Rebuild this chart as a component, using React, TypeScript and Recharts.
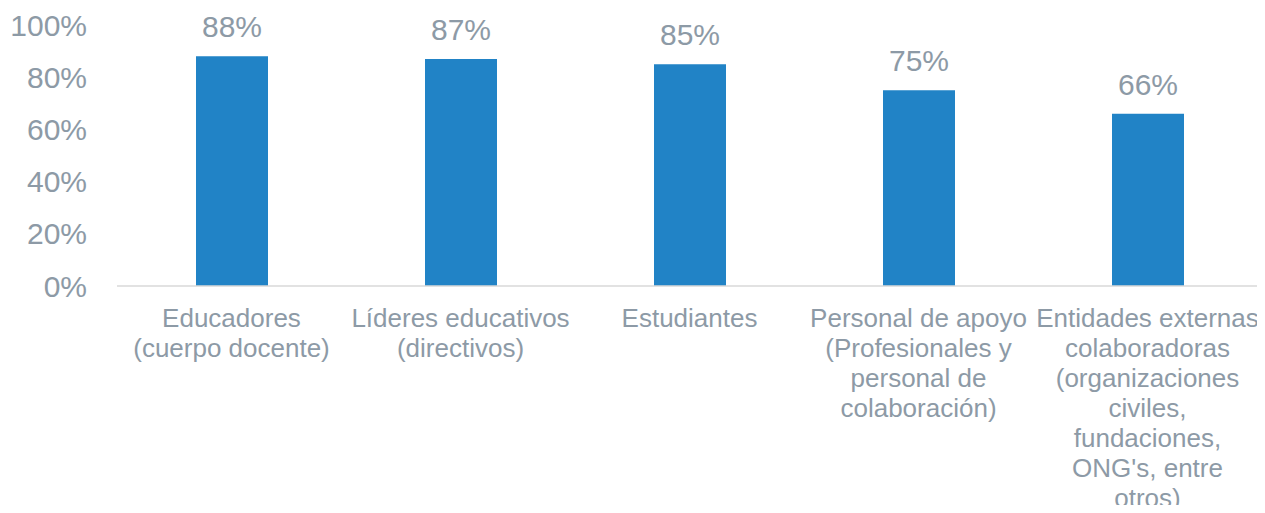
import { BarChart, Bar, XAxis, YAxis, LabelList } from 'recharts';

// Categories (line breaks as in the original chart)
const categories = [
  'Educadores\n(cuerpo docente)',
  'Líderes educativos\n(directivos)',
  'Estudiantes',
  'Personal de apoyo\n(Profesionales y\npersonal de\ncolaboración)',
  'Entidades externas\ncolaboradoras\n(organizaciones\nciviles,\nfundaciones,\nONG\'s, entre\notros)',
];

const values = [88, 87, 85, 75, 66];

const yTicks = [0, 20, 40, 60, 80, 100];

const data = categories.map((name, i) => ({ name, value: values[i] }));

const FONT = '"Liberation Sans", Arial, sans-serif';
const TEXT_COLOR = '#8D9AA6';
const BAR_COLOR = '#2183C6';

function CategoryTick(props: any) {
  const { x, y, payload } = props;
  const lines = String(payload.value).split('\n');
  return (
    <text
      x={x}
      y={y}
      textAnchor="middle"
      fill={TEXT_COLOR}
      fontSize={26}
      fontFamily={FONT}
    >
      {lines.map((line, i) => (
        <tspan key={i} x={x} y={y + 33 + i * 30}>
          {line}
        </tspan>
      ))}
    </text>
  );
}

function PercentTick(props: any) {
  const { y, payload } = props;
  return (
    <text
      x={87}
      y={y}
      dy="0.355em"
      textAnchor="end"
      fill={TEXT_COLOR}
      fontSize={30}
      fontFamily={FONT}
    >
      {`${payload.value}%`}
    </text>
  );
}

function ValueLabel(props: any) {
  const { x, y, width, value } = props;
  return (
    <text
      x={x + width / 2}
      y={y - 19}
      textAnchor="middle"
      fill={TEXT_COLOR}
      fontSize={30}
      fontFamily={FONT}
    >
      {`${value}%`}
    </text>
  );
}

export default function App() {
  return (
    <div style={{ margin: -8, background: '#fff', width: 1265, height: 513 }}>
      <BarChart
        width={1265}
        height={513}
        data={data}
        margin={{ top: 25, right: 3, left: 0, bottom: 0 }}
      >
        <XAxis
          dataKey="name"
          height={227}
          interval={0}
          tickLine={false}
          axisLine={{ stroke: '#D9D9D9', strokeWidth: 1.5 }}
          tick={<CategoryTick />}
        />
        <YAxis
          width={117}
          domain={[0, 100]}
          ticks={yTicks}
          axisLine={false}
          tickLine={false}
          tick={<PercentTick />}
        />
        <Bar dataKey="value" fill={BAR_COLOR} barSize={72} isAnimationActive={false}>
          <LabelList dataKey="value" content={<ValueLabel />} />
        </Bar>
      </BarChart>
    </div>
  );
}
